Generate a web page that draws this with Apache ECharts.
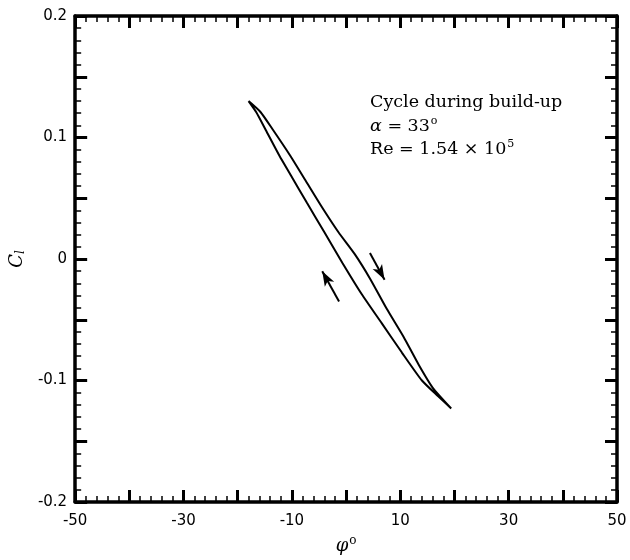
<!DOCTYPE html>
<html>
<head>
<meta charset="utf-8">
<script src="https://cdn.jsdelivr.net/npm/echarts@6/dist/echarts.min.js"></script>
<style>html,body{margin:0;padding:0;background:#fff}#c{width:630px;height:560px}</style>
</head>
<body>
<div id="c"></div>
<script>
// Branch travelled downward (right-hand arrow)
const downBranchX = [-18.0, -15.8, -13.6, -10.3, -7.4, -4.5, -1.4, 1.6, 4.4, 7.5, 10.6, 13.4, 16.0, 19.4];
const downBranchY = [0.130, 0.121, 0.107, 0.085, 0.064, 0.043, 0.022, 0.004, -0.016, -0.041, -0.064, -0.087, -0.106, -0.123];
// Branch travelled upward (left-hand arrow)
const upBranchX = [19.4, 17.0, 14.0, 10.3, 6.6, 2.9, -0.7, -4.0, -7.2, -10.2, -12.3, -14.8, -16.6, -18.0];
const upBranchY = [-0.123, -0.113, -0.100, -0.077, -0.053, -0.029, -0.003, 0.022, 0.046, 0.069, 0.085, 0.106, 0.121, 0.130];
// Arrows [x0, y0, x1, y1]
const arrowDown = [4.4, 0.005, 7.1, -0.017];
const arrowUp = [-1.3, -0.035, -4.4, -0.010];
const xLabeled = [-50, -30, -10, 10, 30, 50];
const yLabeled = [-0.2, -0.1, 0, 0.1, 0.2];

const loop = [];
downBranchX.forEach((x, i) => loop.push([x, downBranchY[i]]));
upBranchX.forEach((x, i) => { if (i > 0) loop.push([x, upBranchY[i]]); });

const chart = echarts.init(document.getElementById('c'), null, {renderer: 'canvas'});
const axisLine = {show: true, onZero: false, lineStyle: {color: '#000', width: 3.5}};
const tick = {show: true, inside: true, length: 12, lineStyle: {color: '#000', width: 3}};
const minor = {show: true, splitNumber: 5, length: 6, lineStyle: {color: '#000', width: 1.5}};
const lblFont = {color: '#000', fontFamily: 'DejaVu Sans', fontSize: 15};

function xAx(pos, labels) {
  return {
    type: 'value', position: pos, min: -50, max: 50, interval: 10,
    axisLine, axisTick: tick, minorTick: minor, splitLine: {show: false},
    axisLabel: labels ? Object.assign({margin: 12, formatter: v => xLabeled.indexOf(Math.round(v)) >= 0 ? String(Math.round(v)) : ''}, lblFont) : {show: false},
    name: labels ? '{v|φ}{d|o}' : '', nameLocation: 'middle', nameGap: 33,
    nameTextStyle: {rich: {v: {fontFamily: 'DejaVu Serif', fontStyle: 'italic', fontSize: 18, color: '#000'}, d: {fontFamily: 'DejaVu Serif', fontSize: 12, color: '#000', verticalAlign: 'top', padding: [0, 0, 10, 1]}}}
  };
}
function yAx(pos, labels) {
  return {
    type: 'value', position: pos, min: -0.2, max: 0.2, interval: 0.05,
    axisLine, axisTick: tick, minorTick: minor, splitLine: {show: false},
    axisLabel: labels ? Object.assign({margin: 8, formatter: v => {
      const r = Math.round(v * 100) / 100;
      return yLabeled.some(t => Math.abs(t - r) < 1e-9) ? String(r) : '';
    }}, lblFont) : {show: false},
    name: labels ? '{c|C}{l|l}' : '', nameLocation: 'middle', nameGap: 38,
    nameTextStyle: {rich: {c: {fontFamily: 'DejaVu Serif', fontStyle: 'italic', fontSize: 18, color: '#000'}, l: {fontFamily: 'DejaVu Serif', fontStyle: 'italic', fontSize: 12, color: '#000', padding: [8, 0, 0, 0]}}}
  };
}

const arrowStyle = {color: '#000', width: 2, type: 'solid'};
const txtFont = '17.5px "DejaVu Serif"';
chart.setOption({
  animation: false,
  grid: {left: 71, right: 13, top: 16, bottom: 43, containLabel: false},
  xAxis: [xAx('bottom', true), xAx('top', false)],
  yAxis: [yAx('left', true), yAx('right', false)],
  series: [{
    type: 'line', data: loop, showSymbol: false, smooth: 0.2,
    lineStyle: {color: '#000', width: 2},
    markLine: {
      silent: true, symbol: ['none', 'arrow'], symbolSize: [8, 15],
      label: {show: false}, lineStyle: arrowStyle,
      data: [
        [{coord: [arrowDown[0], arrowDown[1]]}, {coord: [arrowDown[2], arrowDown[3]]}],
        [{coord: [arrowUp[0], arrowUp[1]]}, {coord: [arrowUp[2], arrowUp[3]]}]
      ]
    }
  }],
  graphic: [
    {type: 'text', left: 370, top: 93, style: {text: 'Cycle during build-up', font: txtFont, fill: '#000'}},
    {type: 'text', left: 370, top: 116, style: {text: '{i|α} = 33{s|o}', fill: '#000', font: txtFont,
      rich: {i: {fontFamily: 'DejaVu Serif', fontStyle: 'italic', fontSize: 17.5}, s: {fontFamily: 'DejaVu Serif', fontSize: 11, verticalAlign: 'top', padding: [0, 0, 10, 1]}}}},
    {type: 'text', left: 370, top: 139, style: {text: 'Re = 1.54 × 10{s|5}', fill: '#000', font: txtFont,
      rich: {s: {fontFamily: 'DejaVu Serif', fontSize: 11, verticalAlign: 'top', padding: [0, 0, 10, 1]}}}}
  ]
});
</script>
</body>
</html>
